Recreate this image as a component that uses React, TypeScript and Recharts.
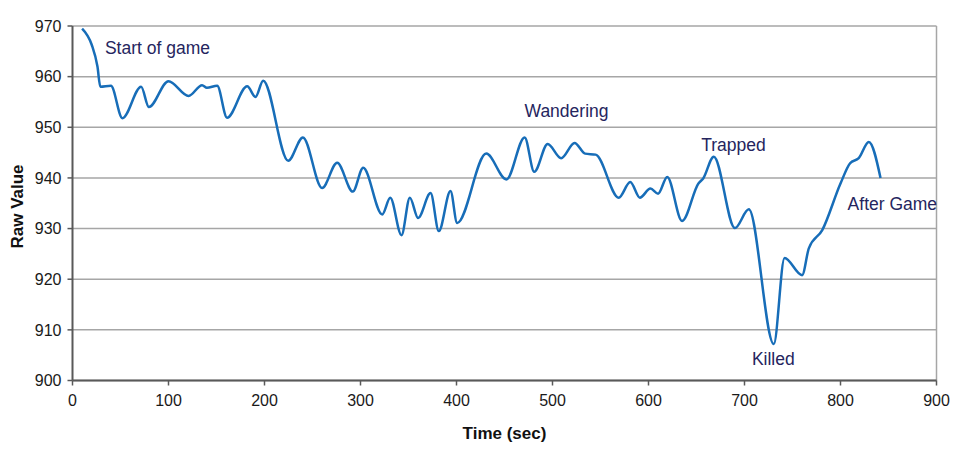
import {
  CartesianGrid,
  Line,
  LineChart,
  ReferenceDot,
  ReferenceLine,
  XAxis,
  YAxis,
} from "recharts";

// sampled off the trace: time in seconds, raw sensor value
const TIMES = [
  10, 20, 26, 29, 40, 52, 71.5, 79.5, 100, 121, 135, 140, 150.7, 161, 182, 190.6, 198.6,
  224.7, 240, 260, 275.7, 292, 302.8, 322.6, 331, 342.7, 351.4, 360, 373, 381.6, 393.75,
  400.7, 431, 452, 471, 481, 495, 509, 523, 534, 545, 569, 581, 591, 602, 610, 619.5, 635,
  652, 657, 668, 690, 704.5, 730.5, 741.7, 760, 767, 781, 800, 810, 819, 829.5, 841.7,
];
const RAW_VALUES = [
  969.5, 966.3, 962, 958, 958.2, 951.8, 958, 954, 959.1, 956.2, 958.3, 957.8, 958.2, 951.9,
  958.1, 956, 959.2, 943.4, 948, 938, 943, 937.3, 942, 932.8, 936.1, 928.7, 936.1, 932.1,
  937, 929.5, 937.4, 931.1, 944.8, 939.7, 948, 941.2, 946.7, 943.9, 946.9, 944.8, 944.6,
  936.1, 939.2, 936.1, 937.9, 936.9, 940.2, 931.5, 938.9, 939.9, 944.2, 930.1, 933.8,
  907.2, 924.2, 920.8, 926.1, 929.7, 938.9, 942.9, 943.9, 947.1, 940,
];

const X_TICKS = [0, 100, 200, 300, 400, 500, 600, 700, 800, 900];
const Y_TICKS = [900, 910, 920, 930, 940, 950, 960, 970];

const NOTE_TEXT = ["Start of game", "Wandering", "Trapped", "Killed", "After Game"];
const NOTE_TIME = [88.5, 514.6, 688.5, 730, 854];
const NOTE_VALUE = [965.6, 953.2, 946.5, 904.2, 934.8];

const data = TIMES.map((time, i) => ({ time, value: RAW_VALUES[i] }));

const FONT = "'Liberation Sans', Arial, sans-serif";
const AXIS_COLOR = "#595959";
const GRID_COLOR = "#a6a6a6";
const NOTE_COLOR = "#25255e";
const tick = { fill: "#1a1a1a", fontSize: 16, fontFamily: FONT };

const titleStyle = { fontSize: 17, fontWeight: 700, fontFamily: FONT, fill: "#111" };

function YTitle({ viewBox }: any) {
  const x = (viewBox?.x ?? 0) + 15;
  const y = 198.5;
  return (
    <text x={x} y={y} transform={`rotate(-90 ${x} ${y})`} textAnchor="middle" style={titleStyle}>
      Raw Value
    </text>
  );
}

function XTitle({ viewBox }: any) {
  const x = (viewBox?.x ?? 0) + (viewBox?.width ?? 0) / 2;
  return (
    <text x={x} y={431} textAnchor="middle" style={titleStyle}>
      Time (sec)
    </text>
  );
}

export default function App() {
  return (
    <LineChart
      width={952}
      height={444}
      data={data}
      margin={{ top: 18, right: 23.5, left: 0, bottom: 41.5 }}
    >
      <CartesianGrid vertical={false} stroke={GRID_COLOR} strokeWidth={1.5} />
      <ReferenceLine x={900} stroke={GRID_COLOR} strokeWidth={1.5} />
      <XAxis
        type="number"
        dataKey="time"
        domain={[0, 900]}
        ticks={X_TICKS}
        interval={0}
        height={30}
        tick={tick}
        tickSize={5}
        tickMargin={9}
        axisLine={{ stroke: AXIS_COLOR, strokeWidth: 2 }}
        tickLine={{ stroke: AXIS_COLOR, strokeWidth: 1.5 }}
        label={{ value: "Time (sec)", content: XTitle }}
      />
      <YAxis
        type="number"
        domain={[900, 970]}
        ticks={Y_TICKS}
        interval={0}
        width={64.5}
        tick={tick}
        tickSize={5}
        tickMargin={6}
        axisLine={{ stroke: AXIS_COLOR, strokeWidth: 2 }}
        tickLine={{ stroke: AXIS_COLOR, strokeWidth: 1.5 }}
        label={{ value: "Raw Value", content: YTitle }}
      />
      <Line
        type="monotone"
        dataKey="value"
        stroke="#176db8"
        strokeWidth={2.5}
        dot={false}
        activeDot={false}
        isAnimationActive={false}
      />
      {NOTE_TEXT.map((text, i) => (
        <ReferenceDot
          key={text}
          x={NOTE_TIME[i]}
          y={NOTE_VALUE[i]}
          r={0}
          fill="none"
          stroke="none"
          label={{
            value: text,
            position: "center",
            fill: NOTE_COLOR,
            fontSize: 17.5,
            fontFamily: FONT,
          }}
        />
      ))}
    </LineChart>
  );
}
